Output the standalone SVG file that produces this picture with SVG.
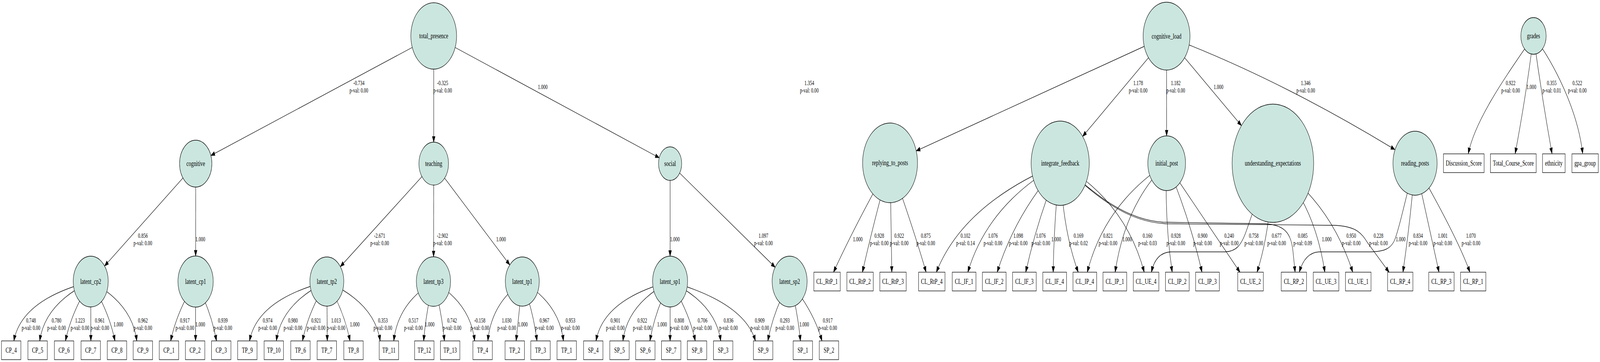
<svg xmlns="http://www.w3.org/2000/svg" width="5943" height="927" viewBox="0 0 5943 927" preserveAspectRatio="none" style="width:100vw;height:100vh;display:block">
<style>
.n circle{fill:#cbe6df;stroke:#000;stroke-width:1.33}
.b rect{fill:#fff;stroke:#000;stroke-width:1.33}
.t{font-family:"Liberation Serif","Times New Roman",serif;font-size:18.67px;text-anchor:middle;fill:#000}
.e path{fill:none;stroke:#000;stroke-width:1.33;marker-end:url(#a)}
.l{font-family:"Liberation Serif","Times New Roman",serif;font-size:16px;text-anchor:middle;fill:#000}
</style>
<defs>
<marker id="a" markerUnits="userSpaceOnUse" markerWidth="16" markerHeight="12" refX="14.5" refY="5.25" orient="auto" overflow="visible">
<path d="M0,0 L14.5,5.25 L0,10.5 Z" fill="#000" stroke="#000" stroke-width="1"/>
</marker>
</defs>
<rect width="5943" height="927" fill="#fff"/>
<g id="edges">
<g class="e"><path d="M1611,92 L783.3,398.2"/><text class="l" x="1333" y="218.3">-0.734<tspan x="1333" dy="19.2">p-val: 0.00</tspan></text></g>
<g class="e"><path d="M1611,92 L1611,364"/><text class="l" x="1644" y="218.3">-0.325<tspan x="1644" dy="19.2">p-val: 0.00</tspan></text></g>
<g class="e"><path d="M1611,92 L2448.7,404"/><text class="l" x="2016" y="228.4">1.000</text></g>
<g class="e"><path d="M727,419 L388.4,681.2"/><text class="l" x="530.7" y="609.1">0.856<tspan x="530.7" dy="19.2">p-val: 0.00</tspan></text></g>
<g class="e"><path d="M727,419 L726.7,655.5"/><text class="l" x="744" y="618">1.000</text></g>
<g class="e"><path d="M1611,419 L1264.1,682.9"/><text class="l" x="1410" y="609.1">-2.671<tspan x="1410" dy="19.2">p-val: 0.00</tspan></text></g>
<g class="e"><path d="M1611,419 L1610.5,657.5"/><text class="l" x="1643.7" y="609.1">-2.902<tspan x="1643.7" dy="19.2">p-val: 0.00</tspan></text></g>
<g class="e"><path d="M1611,419 L1893.6,678.4"/><text class="l" x="1861" y="618">1.000</text></g>
<g class="e"><path d="M2489,419 L2489,656"/><text class="l" x="2506.7" y="618">1.000</text></g>
<g class="e"><path d="M2489,419 L2879.3,684.4"/><text class="l" x="2835.6" y="609.1">1.097<tspan x="2835.6" dy="19.2">p-val: 0.00</tspan></text></g>

<g class="e"><path d="M337,721 Q80,766.6 51.4,873"/><text class="l" x="115" y="825.8">0.748<tspan x="115" dy="19.2">p-val: 0.00</tspan></text></g>
<g class="e"><path d="M337,721 Q166.5,777.2 147.6,873"/><text class="l" x="210" y="825.8">0.780<tspan x="210" dy="19.2">p-val: 0.00</tspan></text></g>
<g class="e"><path d="M337,721 Q266.5,797 243,873"/><text class="l" x="297" y="825.8">1.223<tspan x="297" dy="19.2">p-val: 0.00</tspan></text></g>
<g class="e"><path d="M337,721 L337.5,873"/><text class="l" x="370.6" y="825.8">0.961<tspan x="370.6" dy="19.2">p-val: 0.00</tspan></text></g>
<g class="e"><path d="M337,721 Q404.5,797 427,873"/><text class="l" x="439.5" y="836">1.000</text></g>
<g class="e"><path d="M337,721 Q490.9,777.2 508,873"/><text class="l" x="530.7" y="825.8">0.962<tspan x="530.7" dy="19.2">p-val: 0.00</tspan></text></g>
<g class="e"><path d="M726.5,721 Q657.1,797 634,873"/><text class="l" x="686.6" y="825.8">0.917<tspan x="686.6" dy="19.2">p-val: 0.00</tspan></text></g>
<g class="e"><path d="M726.5,721 L726.4,873"/><text class="l" x="743.8" y="836">1.000</text></g>
<g class="e"><path d="M726.5,721 Q784.6,797 804,873"/><text class="l" x="827.5" y="825.8">0.939<tspan x="827.5" dy="19.2">p-val: 0.00</tspan></text></g>
<g class="e"><path d="M1214,721 Q955.7,766.6 927,873"/><text class="l" x="994" y="825.8">0.974<tspan x="994" dy="19.2">p-val: 0.00</tspan></text></g>
<g class="e"><path d="M1214,721 Q1045.3,777.2 1026.5,873"/><text class="l" x="1088" y="825.8">0.980<tspan x="1088" dy="19.2">p-val: 0.00</tspan></text></g>
<g class="e"><path d="M1214,721 Q1146.1,797 1123.5,873"/><text class="l" x="1174" y="825.8">0.921<tspan x="1174" dy="19.2">p-val: 0.00</tspan></text></g>
<g class="e"><path d="M1214,721 L1215.6,873"/><text class="l" x="1248" y="825.8">1.013<tspan x="1248" dy="19.2">p-val: 0.00</tspan></text></g>
<g class="e"><path d="M1214,721 Q1278.5,797 1300,873"/><text class="l" x="1317.5" y="836">1.000</text></g>
<g class="e"><path d="M1214,721 Q1392.2,777.2 1412,873"/><text class="l" x="1422" y="825.8">0.353<tspan x="1422" dy="19.2">p-val: 0.00</tspan></text></g>
<g class="e"><path d="M1610,721 Q1477.4,777.2 1462.7,873"/><text class="l" x="1535.7" y="825.8">0.517<tspan x="1535.7" dy="19.2">p-val: 0.00</tspan></text></g>
<g class="e"><path d="M1610,721 Q1582.7,797 1573.6,873"/><text class="l" x="1596" y="836">1.000</text></g>
<g class="e"><path d="M1610,721 Q1640.5,797 1650.7,873"/><text class="l" x="1678.8" y="825.8">0.742<tspan x="1678.8" dy="19.2">p-val: 0.00</tspan></text></g>
<g class="e"><path d="M1610,721 Q1747.7,777.2 1763,873"/><text class="l" x="1782" y="825.8">-0.158<tspan x="1782" dy="19.2">p-val: 0.00</tspan></text></g>
<g class="e"><path d="M1940,721 Q1824.8,777.2 1812,873"/><text class="l" x="1882" y="825.8">1.030<tspan x="1882" dy="19.2">p-val: 0.00</tspan></text></g>
<g class="e"><path d="M1940,721 Q1928.5,797 1917,873"/><text class="l" x="1942" y="836">1.000</text></g>
<g class="e"><path d="M1940,721 Q1980.9,797 1994.5,873"/><text class="l" x="2022" y="825.8">0.967<tspan x="2022" dy="19.2">p-val: 0.00</tspan></text></g>
<g class="e"><path d="M1940,721 Q2077.4,777.2 2092.7,873"/><text class="l" x="2119" y="825.8">0.953<tspan x="2119" dy="19.2">p-val: 0.00</tspan></text></g>
<g class="e"><path d="M2489,721 Q2241.5,766.6 2214,873"/><text class="l" x="2285.6" y="825.8">0.901<tspan x="2285.6" dy="19.2">p-val: 0.00</tspan></text></g>
<g class="e"><path d="M2489,721 Q2331.2,777.2 2313.7,873"/><text class="l" x="2385.6" y="825.8">0.922<tspan x="2385.6" dy="19.2">p-val: 0.00</tspan></text></g>
<g class="e"><path d="M2489,721 Q2432.8,797 2414,873"/><text class="l" x="2459" y="836">1.000</text></g>
<g class="e"><path d="M2489,721 L2489,873"/><text class="l" x="2523" y="825.8">0.808<tspan x="2523" dy="19.2">p-val: 0.00</tspan></text></g>
<g class="e"><path d="M2489,721 Q2559.1,797 2582.5,873"/><text class="l" x="2609.5" y="825.8">0.706<tspan x="2609.5" dy="19.2">p-val: 0.00</tspan></text></g>
<g class="e"><path d="M2489,721 Q2658.2,777.2 2677,873"/><text class="l" x="2706" y="825.8">0.836<tspan x="2706" dy="19.2">p-val: 0.00</tspan></text></g>
<g class="e"><path d="M2489,721 Q2765,775 2806,873"/><text class="l" x="2822" y="825.8">0.909<tspan x="2822" dy="19.2">p-val: 0.00</tspan></text></g>
<g class="e"><path d="M2933,721 Q2872.3,797 2852,873"/><text class="l" x="2915" y="825.8">0.293<tspan x="2915" dy="19.2">p-val: 0.00</tspan></text></g>
<g class="e"><path d="M2933,721 Q2963,797 2973,873"/><text class="l" x="2987" y="836">1.000</text></g>
<g class="e"><path d="M2933,721 Q3023,797 3053,873"/><text class="l" x="3074.5" y="825.8">0.917<tspan x="3074.5" dy="19.2">p-val: 0.00</tspan></text></g>

<g class="e"><path d="M4333,92.5 L3403.3,386.3"/><text class="l" x="3006" y="218.3">1.354<tspan x="3006" dy="19.2">p-val: 0.00</tspan></text></g>
<g class="e"><path d="M4333,92.5 L4021.4,349.3"/><text class="l" x="4227.5" y="218.3">1.178<tspan x="4227.5" dy="19.2">p-val: 0.00</tspan></text></g>
<g class="e"><path d="M4333,92.5 L4333.3,348"/><text class="l" x="4367" y="218.3">1.182<tspan x="4367" dy="19.2">p-val: 0.00</tspan></text></g>
<g class="e"><path d="M4333,92.5 L4611,321.6"/><text class="l" x="4526" y="228.4">1.000</text></g>
<g class="e"><path d="M4333,92.5 Q4745,200 5181,383"/><text class="l" x="4850" y="218.3">1.346<tspan x="4850" dy="19.2">p-val: 0.00</tspan></text></g>
<g class="e"><path d="M5696,92 C5620,170 5480,300 5454,393.3"/><text class="l" x="5611" y="218.3">0.922<tspan x="5611" dy="19.2">p-val: 0.00</tspan></text></g>
<g class="e"><path d="M5696,92 Q5672,230 5628,393.3"/><text class="l" x="5688" y="228.4">1.000</text></g>
<g class="e"><path d="M5696,92 Q5725,240 5764.7,393.3"/><text class="l" x="5763.6" y="218.3">0.355<tspan x="5763.6" dy="19.2">p-val: 0.01</tspan></text></g>
<g class="e"><path d="M5696,92 C5770,160 5860,280 5878.6,393.3"/><text class="l" x="5858.6" y="218.3">0.522<tspan x="5858.6" dy="19.2">p-val: 0.00</tspan></text></g>

<g class="e"><path d="M3306,417 Q3180,571 3096,697"/><text class="l" x="3186" y="618">1.000</text></g>
<g class="e"><path d="M3306,417 Q3244.4,571 3203.4,697"/><text class="l" x="3266" y="609.1">0.928<tspan x="3266" dy="19.2">p-val: 0.00</tspan></text></g>
<g class="e"><path d="M3306,417 L3312.5,697"/><text class="l" x="3340" y="609.1">0.922<tspan x="3340" dy="19.2">p-val: 0.00</tspan></text></g>
<g class="e"><path d="M3306,417 Q3386.4,571 3440,697"/><text class="l" x="3438.7" y="609.1">0.875<tspan x="3438.7" dy="19.2">p-val: 0.00</tspan></text></g>
<g class="e"><path d="M3938,418 Q3579,521 3478,697"/><text class="l" x="3586" y="609.1">0.102<tspan x="3586" dy="19.2">p-val: 0.14</tspan></text></g>
<g class="e"><path d="M3938,418 Q3670.5,521 3595,697"/><text class="l" x="3688" y="609.1">1.076<tspan x="3688" dy="19.2">p-val: 0.00</tspan></text></g>
<g class="e"><path d="M3938,418 Q3774,543.5 3704,697"/><text class="l" x="3782" y="609.1">1.098<tspan x="3782" dy="19.2">p-val: 0.00</tspan></text></g>
<g class="e"><path d="M3938,418 Q3854.8,557.5 3810,697"/><text class="l" x="3866" y="609.1">1.076<tspan x="3866" dy="19.2">p-val: 0.00</tspan></text></g>
<g class="e"><path d="M3938,418 Q3915,557.5 3912,697"/><text class="l" x="3923" y="618">1.000</text></g>
<g class="e"><path d="M3938,418 Q3945,585 4005,697"/><text class="l" x="4006" y="609.1">0.169<tspan x="4006" dy="19.2">p-val: 0.02</tspan></text></g>
<g class="e"><path d="M3938,418 Q4180,515 4250,697"/><text class="l" x="4262.4" y="609.1">0.160<tspan x="4262.4" dy="19.2">p-val: 0.03</tspan></text></g>
<g class="e"><path d="M3938,418 C4050,485 4165,562 4320,569 L4700,573 C4772,576 4795,598 4802,640 L4810.6,697"/><text class="l" x="4838.7" y="609.1">0.085<tspan x="4838.7" dy="19.2">p-val: 0.09</tspan></text></g>
<g class="e"><path d="M3938,418 C4050,488 4170,568 4330,573 L4960,577 C5040,580 5058,598 5080,622 L5159.5,697"/><text class="l" x="5120" y="609.1">0.228<tspan x="5120" dy="19.2">p-val: 0.00</tspan></text></g>
<g class="e"><path d="M4333.5,418 Q4103.6,521 4038.6,697"/><text class="l" x="4115.4" y="609.1">0.821<tspan x="4115.4" dy="19.2">p-val: 0.00</tspan></text></g>
<g class="e"><path d="M4333.5,418 Q4180.3,521 4142,697"/><text class="l" x="4186.6" y="618">1.000</text></g>
<g class="e"><path d="M4333.5,418 Q4325,560 4354,697"/><text class="l" x="4367.5" y="609.1">0.928<tspan x="4367.5" dy="19.2">p-val: 0.00</tspan></text></g>
<g class="e"><path d="M4333.5,418 Q4418.6,557.5 4464.5,697"/><text class="l" x="4466.8" y="609.1">0.900<tspan x="4466.8" dy="19.2">p-val: 0.00</tspan></text></g>
<g class="e"><path d="M4333.5,418 L4605.7,697"/><text class="l" x="4565.5" y="609.1">0.240<tspan x="4565.5" dy="19.2">p-val: 0.00</tspan></text></g>
<g class="e"><path d="M4728,418 C4690,470 4660,530 4630,590 C4610,630 4590,644 4550,645 L4350,645 C4305,646 4285,670 4277,697"/><text class="l" x="4657" y="609.1">0.758<tspan x="4657" dy="19.2">p-val: 0.00</tspan></text></g>
<g class="e"><path d="M4728,418 Q4720,590 4669,697"/><text class="l" x="4742" y="609.1">0.677<tspan x="4742" dy="19.2">p-val: 0.00</tspan></text></g>
<g class="e"><path d="M4728,418 Q4879,510 4921,697"/><text class="l" x="4928" y="618">1.000</text></g>
<g class="e"><path d="M4728,418 Q4940,515 5024.6,697"/><text class="l" x="5019" y="609.1">0.950<tspan x="5019" dy="19.2">p-val: 0.00</tspan></text></g>
<g class="e"><path d="M5256,418 C5230,480 5200,580 5180,615 C5165,638 5140,644 5090,645 L4900,645 C4860,646 4838,668 4826,697"/><text class="l" x="5202.6" y="618">1.000</text></g>
<g class="e"><path d="M5256,418 Q5240,560 5211,697"/><text class="l" x="5267" y="609.1">0.834<tspan x="5267" dy="19.2">p-val: 0.00</tspan></text></g>
<g class="e"><path d="M5256,418 Q5300,557 5345,697"/><text class="l" x="5359" y="609.1">1.001<tspan x="5359" dy="19.2">p-val: 0.00</tspan></text></g>
<g class="e"><path d="M5256,418 Q5414,608.5 5459.8,697"/><text class="l" x="5463.8" y="609.1">1.070<tspan x="5463.8" dy="19.2">p-val: 0.00</tspan></text></g>
</g>

<g id="total_presence" class="n"><circle cx="1611" cy="92" r="85"/><text class="t" x="1611" y="98.5">total_presence</text></g>
<g id="cognitive" class="n"><circle cx="727" cy="419" r="60"/><text class="t" x="727" y="425.5">cognitive</text></g>
<g id="teaching" class="n"><circle cx="1611" cy="419" r="55"/><text class="t" x="1611" y="425.5">teaching</text></g>
<g id="social" class="n"><circle cx="2489" cy="419" r="43"/><text class="t" x="2489" y="425.5">social</text></g>
<g id="latent_cp2" class="n"><circle cx="337" cy="721" r="65"/><text class="t" x="337" y="727.5">latent_cp2</text></g>
<g id="latent_cp1" class="n"><circle cx="726.5" cy="721" r="65.5"/><text class="t" x="726.5" y="727.5">latent_cp1</text></g>
<g id="latent_tp2" class="n"><circle cx="1214" cy="721" r="63"/><text class="t" x="1214" y="727.5">latent_tp2</text></g>
<g id="latent_tp3" class="n"><circle cx="1610" cy="721" r="63.5"/><text class="t" x="1610" y="727.5">latent_tp3</text></g>
<g id="latent_tp1" class="n"><circle cx="1940" cy="721" r="63"/><text class="t" x="1940" y="727.5">latent_tp1</text></g>
<g id="latent_sp1" class="n"><circle cx="2489" cy="721" r="65"/><text class="t" x="2489" y="727.5">latent_sp1</text></g>
<g id="latent_sp2" class="n"><circle cx="2933" cy="721" r="65"/><text class="t" x="2933" y="727.5">latent_sp2</text></g>
<g id="cognitive_load" class="n"><circle cx="4333" cy="92.5" r="87"/><text class="t" x="4333" y="99">cognitive_load</text></g>
<g id="replying_to_posts" class="n"><circle cx="3306" cy="417" r="102"/><text class="t" x="3306" y="423.5">replying_to_posts</text></g>
<g id="integrate_feedback" class="n"><circle cx="3938" cy="418" r="108"/><text class="t" x="3938" y="424.5">integrate_feedback</text></g>
<g id="initial_post" class="n"><circle cx="4333.5" cy="418" r="70"/><text class="t" x="4333.5" y="424.5">initial_post</text></g>
<g id="understanding_expectations" class="n"><circle cx="4728" cy="418" r="151.5"/><text class="t" x="4728" y="424.5">understanding_expectations</text></g>
<g id="reading_posts" class="n"><circle cx="5256" cy="418" r="82"/><text class="t" x="5256" y="424.5">reading_posts</text></g>
<g id="grades" class="n"><circle cx="5696" cy="92" r="47"/><text class="t" x="5696" y="98.5">grades</text></g>

<g id="CP_4" class="b"><rect x="5.5" y="873" width="72" height="48"/><text class="t" x="41.5" y="903.5">CP_4</text></g>
<g id="CP_5" class="b"><rect x="103.7" y="873" width="72" height="48"/><text class="t" x="139.7" y="903.5">CP_5</text></g>
<g id="CP_6" class="b"><rect x="202" y="873" width="72" height="48"/><text class="t" x="238" y="903.5">CP_6</text></g>
<g id="CP_7" class="b"><rect x="301" y="873" width="72" height="48"/><text class="t" x="337" y="903.5">CP_7</text></g>
<g id="CP_8" class="b"><rect x="398.5" y="873" width="72" height="48"/><text class="t" x="434.5" y="903.5">CP_8</text></g>
<g id="CP_9" class="b"><rect x="494.7" y="873" width="72" height="48"/><text class="t" x="530.7" y="903.5">CP_9</text></g>
<g id="CP_1" class="b"><rect x="591.6" y="873" width="72" height="48"/><text class="t" x="627.6" y="903.5">CP_1</text></g>
<g id="CP_2" class="b"><rect x="688.7" y="873" width="72" height="48"/><text class="t" x="724.7" y="903.5">CP_2</text></g>
<g id="CP_3" class="b"><rect x="785.7" y="873" width="72" height="48"/><text class="t" x="821.7" y="903.5">CP_3</text></g>
<g id="TP_9" class="b"><rect x="882.7" y="873" width="72" height="48"/><text class="t" x="918.7" y="903.5">TP_9</text></g>
<g id="TP_10" class="b"><rect x="981" y="873" width="72" height="48"/><text class="t" x="1017" y="903.5">TP_10</text></g>
<g id="TP_6" class="b"><rect x="1080" y="873" width="72" height="48"/><text class="t" x="1116" y="903.5">TP_6</text></g>
<g id="TP_7" class="b"><rect x="1178" y="873" width="72" height="48"/><text class="t" x="1214" y="903.5">TP_7</text></g>
<g id="TP_8" class="b"><rect x="1277" y="873" width="72" height="48"/><text class="t" x="1313" y="903.5">TP_8</text></g>
<g id="TP_11" class="b"><rect x="1408.6" y="873" width="72" height="48"/><text class="t" x="1444.6" y="903.5">TP_11</text></g>
<g id="TP_12" class="b"><rect x="1540" y="873" width="72" height="48"/><text class="t" x="1576" y="903.5">TP_12</text></g>
<g id="TP_13" class="b"><rect x="1636" y="873" width="72" height="48"/><text class="t" x="1672" y="903.5">TP_13</text></g>
<g id="TP_4" class="b"><rect x="1756.6" y="873" width="72" height="48"/><text class="t" x="1792.6" y="903.5">TP_4</text></g>
<g id="TP_2" class="b"><rect x="1876" y="873" width="72" height="48"/><text class="t" x="1912" y="903.5">TP_2</text></g>
<g id="TP_3" class="b"><rect x="1971.6" y="873" width="72" height="48"/><text class="t" x="2007.6" y="903.5">TP_3</text></g>
<g id="TP_1" class="b"><rect x="2069" y="873" width="72" height="48"/><text class="t" x="2105" y="903.5">TP_1</text></g>
<g id="SP_4" class="b"><rect x="2167.6" y="873" width="72" height="48"/><text class="t" x="2203.6" y="903.5">SP_4</text></g>
<g id="SP_5" class="b"><rect x="2265" y="873" width="72" height="48"/><text class="t" x="2301" y="903.5">SP_5</text></g>
<g id="SP_6" class="b"><rect x="2361" y="873" width="72" height="48"/><text class="t" x="2397" y="903.5">SP_6</text></g>
<g id="SP_7" class="b"><rect x="2457" y="873" width="72" height="48"/><text class="t" x="2493" y="903.5">SP_7</text></g>
<g id="SP_8" class="b"><rect x="2553" y="873" width="72" height="48"/><text class="t" x="2589" y="903.5">SP_8</text></g>
<g id="SP_3" class="b"><rect x="2650" y="873" width="72" height="48"/><text class="t" x="2686" y="903.5">SP_3</text></g>
<g id="SP_9" class="b"><rect x="2798.5" y="873" width="72" height="48"/><text class="t" x="2834.5" y="903.5">SP_9</text></g>
<g id="SP_1" class="b"><rect x="2946" y="873" width="72" height="48"/><text class="t" x="2982" y="903.5">SP_1</text></g>
<g id="SP_2" class="b"><rect x="3043" y="873" width="72" height="48"/><text class="t" x="3079" y="903.5">SP_2</text></g>

<g id="CL_RtP_1" class="b"><rect x="3023" y="697" width="98" height="48"/><text class="t" x="3072" y="727.5">CL_RtP_1</text></g>
<g id="CL_RtP_2" class="b"><rect x="3145.6" y="697" width="98" height="48"/><text class="t" x="3194.6" y="727.5">CL_RtP_2</text></g>
<g id="CL_RtP_3" class="b"><rect x="3268" y="697" width="98" height="48"/><text class="t" x="3317" y="727.5">CL_RtP_3</text></g>
<g id="CL_RtP_4" class="b"><rect x="3412" y="697" width="98" height="48"/><text class="t" x="3461" y="727.5">CL_RtP_4</text></g>
<g id="CL_IF_1" class="b"><rect x="3537" y="697" width="88" height="48"/><text class="t" x="3581" y="727.5">CL_IF_1</text></g>
<g id="CL_IF_2" class="b"><rect x="3649" y="697" width="88" height="48"/><text class="t" x="3693" y="727.5">CL_IF_2</text></g>
<g id="CL_IF_3" class="b"><rect x="3761" y="697" width="88" height="48"/><text class="t" x="3805" y="727.5">CL_IF_3</text></g>
<g id="CL_IF_4" class="b"><rect x="3873.5" y="697" width="88" height="48"/><text class="t" x="3917.5" y="727.5">CL_IF_4</text></g>
<g id="CL_IP_4" class="b"><rect x="3985.5" y="697" width="88" height="48"/><text class="t" x="4029.5" y="727.5">CL_IP_4</text></g>
<g id="CL_IP_1" class="b"><rect x="4097" y="697" width="88" height="48"/><text class="t" x="4141" y="727.5">CL_IP_1</text></g>
<g id="CL_UE_4" class="b"><rect x="4209.5" y="697" width="95" height="48"/><text class="t" x="4257" y="727.5">CL_UE_4</text></g>
<g id="CL_IP_2" class="b"><rect x="4329" y="697" width="88" height="48"/><text class="t" x="4373" y="727.5">CL_IP_2</text></g>
<g id="CL_IP_3" class="b"><rect x="4441" y="697" width="88" height="48"/><text class="t" x="4485" y="727.5">CL_IP_3</text></g>
<g id="CL_UE_2" class="b"><rect x="4597.5" y="697" width="95" height="48"/><text class="t" x="4645" y="727.5">CL_UE_2</text></g>
<g id="CL_RP_2" class="b"><rect x="4759" y="697" width="94" height="48"/><text class="t" x="4806" y="727.5">CL_RP_2</text></g>
<g id="CL_UE_3" class="b"><rect x="4878" y="697" width="95" height="48"/><text class="t" x="4925.5" y="727.5">CL_UE_3</text></g>
<g id="CL_UE_1" class="b"><rect x="4997.5" y="697" width="95" height="48"/><text class="t" x="5045" y="727.5">CL_UE_1</text></g>
<g id="CL_RP_4" class="b"><rect x="5154" y="697" width="94" height="48"/><text class="t" x="5201" y="727.5">CL_RP_4</text></g>
<g id="CL_RP_3" class="b"><rect x="5307" y="697" width="94" height="48"/><text class="t" x="5354" y="727.5">CL_RP_3</text></g>
<g id="CL_RP_1" class="b"><rect x="5425" y="697" width="94" height="48"/><text class="t" x="5472" y="727.5">CL_RP_1</text></g>

<g id="Discussion_Score" class="b"><rect x="5361.5" y="394" width="151" height="48"/><text class="t" x="5437" y="424.5">Discussion_Score</text></g>
<g id="Total_Course_Score" class="b"><rect x="5536" y="394" width="170" height="48"/><text class="t" x="5621" y="424.5">Total_Course_Score</text></g>
<g id="ethnicity" class="b"><rect x="5729.5" y="394" width="84" height="48"/><text class="t" x="5771.5" y="424.5">ethnicity</text></g>
<g id="gpa_group" class="b"><rect x="5838.7" y="394" width="98" height="48"/><text class="t" x="5887.7" y="424.5">gpa_group</text></g>
</svg>
